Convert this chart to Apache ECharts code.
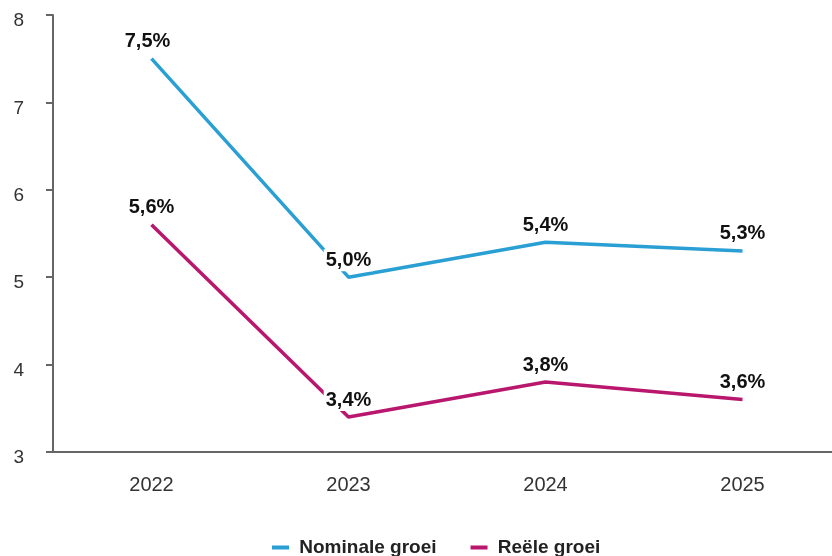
<!DOCTYPE html>
<html>
<head>
<meta charset="utf-8">
<script src="https://cdn.jsdelivr.net/npm/echarts@6/dist/echarts.min.js"></script>
<style>
  html, body { margin: 0; padding: 0; background: #fff; }
  #chart { width: 832px; height: 556px; }
</style>
</head>
<body>
<div id="chart"></div>
<script>
// Groei per jaar (%)
const years = ['2022', '2023', '2024', '2025'];
const nominaleGroei = [7.5, 5.0, 5.4, 5.3];
const reeleGroei = [5.6, 3.4, 3.8, 3.6];
const seriesNames = ['Nominale groei', 'Reële groei'];

const FONT = 'Liberation Sans, Arial, sans-serif';
const fmt = v => v.toFixed(1).replace('.', ',') + '%';

const labelStyle = {
  show: true,
  position: 'top',
  distance: 6,
  fontFamily: FONT,
  fontSize: 20,
  fontWeight: 'bold',
  color: '#111',
  backgroundColor: '#fff',
  padding: [1, 2],
  formatter: p => fmt(p.value)
};

function toData(values, firstOffset) {
  return values.map((v, i) => {
    const d = { value: v };
    if (i === 0 && firstOffset) d.label = { offset: firstOffset };
    return d;
  });
}

const chart = echarts.init(document.getElementById('chart'));
chart.setOption({
  animation: false,
  backgroundColor: '#fff',
  // the plot runs slightly past the right edge of the canvas
  grid: { left: 53, top: 15, width: 788, bottom: 104, outerBoundsMode: 'none', containLabel: false },
  legend: {
    top: 533,
    left: 267,
    itemWidth: 17,
    itemHeight: 4,
    itemGap: 34,
    icon: 'rect',
    formatter: name => ' ' + name,
    textStyle: {
      fontFamily: FONT,
      fontSize: 19,
      fontWeight: 'bold',
      color: '#222'
    },
    data: seriesNames
  },
  xAxis: {
    type: 'category',
    data: years,
    boundaryGap: true,
    axisLine: { show: true, lineStyle: { color: '#666', width: 2 } },
    axisTick: { show: false },
    axisLabel: {
      margin: 23,
      fontFamily: FONT,
      fontSize: 20,
      color: '#333'
    },
    splitLine: { show: false }
  },
  yAxis: {
    type: 'value',
    min: 3,
    max: 8,
    interval: 1,
    axisLine: { show: true, lineStyle: { color: '#666', width: 2 } },
    axisTick: { show: true, length: 7, lineStyle: { color: '#666', width: 2 } },
    axisLabel: {
      margin: 29,
      fontFamily: FONT,
      fontSize: 19,
      color: '#333',
      verticalAlign: 'top',
      lineHeight: 12
    },
    splitLine: { show: false }
  },
  series: [
    {
      name: seriesNames[0],
      type: 'line',
      data: toData(nominaleGroei, [-4, 0]),
      color: '#2a9fd3',
      lineStyle: { width: 3.5, color: '#2a9fd3' },
      symbol: 'circle',
      showSymbol: true,
      symbolSize: 0,
      label: labelStyle,
      z: 3
    },
    {
      name: seriesNames[1],
      type: 'line',
      data: toData(reeleGroei),
      color: '#b9176d',
      lineStyle: { width: 3.5, color: '#b9176d' },
      symbol: 'circle',
      showSymbol: true,
      symbolSize: 0,
      label: labelStyle,
      z: 3
    }
  ]
});
</script>
</body>
</html>
